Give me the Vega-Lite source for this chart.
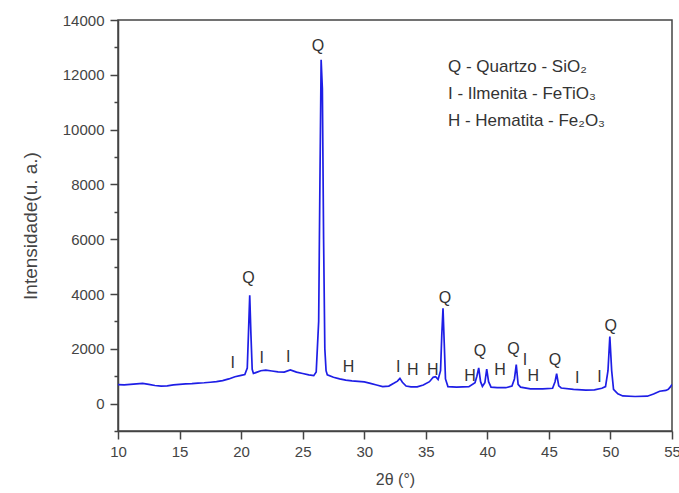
{
  "$schema": "https://vega.github.io/schema/vega-lite/v6.json",
  "width": 554,
  "height": 411,
  "autosize": {"type": "none"},
  "padding": {"left": 118, "top": 20, "right": 7, "bottom": 62},
  "background": "white",
  "view": {"stroke": "#444", "strokeWidth": 1.5},
  "config": {"font": "Liberation Sans"},
  "datasets": {
    "xrd": [
      {"theta": 10.0, "intensity": 690}, {"theta": 10.5, "intensity": 680}, {"theta": 11.0, "intensity": 700},
      {"theta": 11.5, "intensity": 720}, {"theta": 12.0, "intensity": 740}, {"theta": 12.5, "intensity": 700},
      {"theta": 13.0, "intensity": 660}, {"theta": 13.5, "intensity": 640}, {"theta": 14.0, "intensity": 650},
      {"theta": 14.5, "intensity": 680}, {"theta": 15.0, "intensity": 700}, {"theta": 15.5, "intensity": 720},
      {"theta": 16.0, "intensity": 730}, {"theta": 16.5, "intensity": 750}, {"theta": 17.0, "intensity": 760},
      {"theta": 17.5, "intensity": 780}, {"theta": 18.0, "intensity": 800}, {"theta": 18.5, "intensity": 840},
      {"theta": 19.0, "intensity": 900}, {"theta": 19.5, "intensity": 980}, {"theta": 20.0, "intensity": 1030},
      {"theta": 20.3, "intensity": 1060}, {"theta": 20.5, "intensity": 1300}, {"theta": 20.6, "intensity": 2600},
      {"theta": 20.7, "intensity": 3950}, {"theta": 20.8, "intensity": 2500}, {"theta": 20.9, "intensity": 1250},
      {"theta": 21.0, "intensity": 1100}, {"theta": 21.3, "intensity": 1150}, {"theta": 21.6, "intensity": 1200},
      {"theta": 22.0, "intensity": 1220}, {"theta": 22.5, "intensity": 1190}, {"theta": 23.0, "intensity": 1160},
      {"theta": 23.5, "intensity": 1150}, {"theta": 24.0, "intensity": 1230}, {"theta": 24.5, "intensity": 1150},
      {"theta": 25.0, "intensity": 1100}, {"theta": 25.5, "intensity": 1050}, {"theta": 25.9, "intensity": 1020},
      {"theta": 26.1, "intensity": 1150}, {"theta": 26.3, "intensity": 3000}, {"theta": 26.4, "intensity": 8000},
      {"theta": 26.5, "intensity": 12550}, {"theta": 26.6, "intensity": 11500}, {"theta": 26.7, "intensity": 6000},
      {"theta": 26.8, "intensity": 2000}, {"theta": 26.9, "intensity": 1200}, {"theta": 27.0, "intensity": 1050},
      {"theta": 27.5, "intensity": 960}, {"theta": 28.0, "intensity": 900}, {"theta": 28.5, "intensity": 860},
      {"theta": 29.0, "intensity": 830}, {"theta": 29.5, "intensity": 810}, {"theta": 30.0, "intensity": 790},
      {"theta": 30.5, "intensity": 740}, {"theta": 31.0, "intensity": 680}, {"theta": 31.5, "intensity": 620},
      {"theta": 32.0, "intensity": 640}, {"theta": 32.4, "intensity": 740}, {"theta": 32.7, "intensity": 820},
      {"theta": 32.9, "intensity": 920}, {"theta": 33.1, "intensity": 780}, {"theta": 33.4, "intensity": 640},
      {"theta": 33.8, "intensity": 610}, {"theta": 34.3, "intensity": 610}, {"theta": 34.8, "intensity": 680},
      {"theta": 35.3, "intensity": 800}, {"theta": 35.6, "intensity": 960}, {"theta": 35.8, "intensity": 980},
      {"theta": 36.0, "intensity": 880}, {"theta": 36.2, "intensity": 1200}, {"theta": 36.3, "intensity": 2500},
      {"theta": 36.4, "intensity": 3480}, {"theta": 36.5, "intensity": 2200}, {"theta": 36.6, "intensity": 900},
      {"theta": 36.8, "intensity": 620}, {"theta": 37.5, "intensity": 600}, {"theta": 38.0, "intensity": 610},
      {"theta": 38.5, "intensity": 620}, {"theta": 39.0, "intensity": 760}, {"theta": 39.15, "intensity": 1000},
      {"theta": 39.3, "intensity": 1300}, {"theta": 39.45, "intensity": 800}, {"theta": 39.6, "intensity": 630},
      {"theta": 39.8, "intensity": 760}, {"theta": 39.95, "intensity": 1260}, {"theta": 40.1, "intensity": 800},
      {"theta": 40.3, "intensity": 600}, {"theta": 40.8, "intensity": 580}, {"theta": 41.5, "intensity": 580},
      {"theta": 42.0, "intensity": 640}, {"theta": 42.2, "intensity": 900}, {"theta": 42.35, "intensity": 1420},
      {"theta": 42.5, "intensity": 700}, {"theta": 42.7, "intensity": 600}, {"theta": 43.5, "intensity": 540},
      {"theta": 44.5, "intensity": 540}, {"theta": 45.3, "intensity": 560}, {"theta": 45.5, "intensity": 800},
      {"theta": 45.63, "intensity": 1090}, {"theta": 45.8, "intensity": 650}, {"theta": 46.0, "intensity": 570},
      {"theta": 47.0, "intensity": 520}, {"theta": 48.0, "intensity": 490}, {"theta": 48.7, "intensity": 500},
      {"theta": 49.3, "intensity": 560}, {"theta": 49.6, "intensity": 620}, {"theta": 49.8, "intensity": 1200},
      {"theta": 49.95, "intensity": 2450}, {"theta": 50.1, "intensity": 1200}, {"theta": 50.25, "intensity": 520},
      {"theta": 50.6, "intensity": 360}, {"theta": 51.0, "intensity": 280}, {"theta": 52.0, "intensity": 260},
      {"theta": 53.0, "intensity": 270}, {"theta": 53.5, "intensity": 350}, {"theta": 54.0, "intensity": 450},
      {"theta": 54.5, "intensity": 480}, {"theta": 54.7, "intensity": 520}, {"theta": 54.85, "intensity": 600},
      {"theta": 55.0, "intensity": 700}
    ],
    "labels": [
      {"x": 19.31, "y": 1480, "t": "I"}, {"x": 20.59, "y": 4580, "t": "Q"}, {"x": 21.67, "y": 1660, "t": "I"},
      {"x": 23.83, "y": 1700, "t": "I"}, {"x": 26.25, "y": 13050, "t": "Q"}, {"x": 28.72, "y": 1340, "t": "H"},
      {"x": 32.77, "y": 1340, "t": "I"}, {"x": 33.94, "y": 1215, "t": "H"}, {"x": 35.56, "y": 1215, "t": "H"},
      {"x": 36.56, "y": 3850, "t": "Q"}, {"x": 38.6, "y": 1000, "t": "H"}, {"x": 39.41, "y": 1910, "t": "Q"},
      {"x": 41.03, "y": 1240, "t": "H"}, {"x": 42.12, "y": 1990, "t": "Q"}, {"x": 43.06, "y": 1600, "t": "I"},
      {"x": 43.74, "y": 1020, "t": "H"}, {"x": 45.5, "y": 1600, "t": "Q"}, {"x": 47.3, "y": 935, "t": "I"},
      {"x": 49.1, "y": 970, "t": "I"}, {"x": 50.03, "y": 2820, "t": "Q"}
    ],
    "legend": [
      {"x": 36.8, "y": 12285, "t": "Q - Quartzo - SiO₂"},
      {"x": 36.8, "y": 11300, "t": "I - Ilmenita - FeTiO₃"},
      {"x": 36.8, "y": 10317, "t": "H - Hematita - Fe₂O₃"}
    ]
  },
  "resolve": {"axis": {"y": "independent"}},
  "layer": [
    {
      "data": {"name": "xrd"},
      "mark": {"type": "line", "color": "#1e1ee6", "strokeWidth": 1.7, "clip": true},
      "encoding": {
        "x": {
          "field": "theta", "type": "quantitative",
          "scale": {"domain": [10, 55], "nice": false, "zero": false},
          "axis": {
            "title": "2θ (°)",
            "values": [10, 12.5, 15, 17.5, 20, 22.5, 25, 27.5, 30, 32.5, 35, 37.5, 40, 42.5, 45, 47.5, 50, 52.5, 55],
            "labelExpr": "datum.value % 5 === 0 ? datum.label : ''",
            "format": "d",
            "tickSize": {"condition": {"test": "datum.value % 5 === 0", "value": 8}, "value": 4},
            "grid": false, "labelFontSize": 15, "labelColor": "#444", "tickColor": "#444", "tickWidth": 1.5,
            "domainColor": "#444", "domainWidth": 1.5, "labelPadding": 5, "labelFlush": false, "labelOverlap": false,
            "titleFontSize": 16, "titleFontWeight": "normal", "titleColor": "#444", "titlePadding": 12
          }
        },
        "y": {
          "field": "intensity", "type": "quantitative",
          "scale": {"domain": [-1000, 14000], "nice": false, "zero": false},
          "axis": {
            "orient": "left",
            "title": "Intensidade(u. a.)",
            "values": [0, 2000, 4000, 6000, 8000, 10000, 12000, 14000],
            "format": "d",
            "tickSize": 8,
            "grid": false, "labelFontSize": 15, "labelColor": "#444", "tickColor": "#444", "tickWidth": 1.5,
            "domainColor": "#444", "domainWidth": 1.5, "labelPadding": 6, "labelFlush": false, "labelOverlap": false,
            "titleFontSize": 19, "titleFontWeight": "normal", "titleColor": "#444", "titlePadding": 22
          }
        }
      }
    },
    {
      "data": {"name": "labels"},
      "mark": {"type": "text", "fontSize": 16, "color": "#333", "align": "center", "baseline": "middle"},
      "encoding": {
        "x": {"field": "x", "type": "quantitative"},
        "y": {
          "field": "y", "type": "quantitative",
          "axis": {
            "orient": "left",
            "values": [-1000, 1000, 3000, 5000, 7000, 9000, 11000, 13000],
            "labels": false, "title": null, "domain": false, "grid": false,
            "tickSize": 4, "tickColor": "#444", "tickWidth": 1.5
          }
        },
        "text": {"field": "t"}
      }
    },
    {
      "data": {"name": "legend"},
      "mark": {"type": "text", "fontSize": 17, "color": "#333", "align": "left", "baseline": "middle"},
      "encoding": {
        "x": {"field": "x", "type": "quantitative"},
        "y": {"field": "y", "type": "quantitative", "axis": null},
        "text": {"field": "t"}
      }
    }
  ]
}
